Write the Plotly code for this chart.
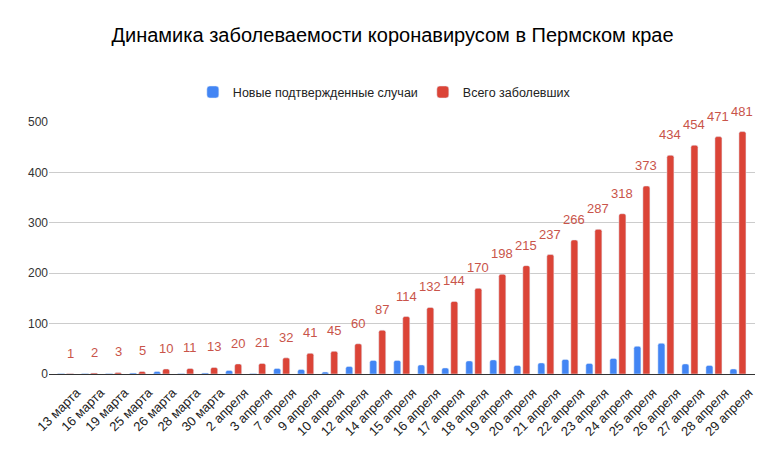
import plotly.graph_objects as go

dates = ["13 марта", "16 марта", "19 марта", "25 марта", "26 марта", "28 марта", "30 марта",
         "2 апреля", "3 апреля", "7 апреля", "9 апреля", "10 апреля", "12 апреля", "14 апреля",
         "15 апреля", "16 апреля", "17 апреля", "18 апреля", "19 апреля", "20 апреля",
         "21 апреля", "22 апреля", "23 апреля", "24 апреля", "25 апреля", "26 апреля",
         "27 апреля", "28 апреля", "29 апреля"]
total = [1, 2, 3, 5, 10, 11, 13, 20, 21, 32, 41, 45, 60, 87, 114, 132, 144, 170, 198, 215,
         237, 266, 287, 318, 373, 434, 454, 471, 481]
new_cases = [1, 1, 1, 2, 5, 1, 2, 7, 1, 11, 9, 4, 15, 27, 27, 18, 12, 26, 28, 17,
             22, 29, 21, 31, 55, 61, 20, 17, 10]

FONT = "Arial, Liberation Sans, sans-serif"

fig = go.Figure()
fig.add_trace(go.Bar(
    x=dates, y=new_cases, name="Новые подтвержденные случаи",
    marker=dict(color="#4285f4", cornerradius=2),
))
fig.add_trace(go.Bar(
    x=dates, y=total, name="Всего заболевших",
    marker=dict(color="#db4437", cornerradius=2),
))

for d, v in zip(dates, total):
    fig.add_annotation(x=d, y=v, text=str(v), showarrow=False, xref="x", yref="y",
                       xanchor="center", yanchor="bottom", xshift=4.5, yshift=11,
                       font=dict(color="#c9544a", size=13, family=FONT))

W, H = 769, 443
fig.update_layout(
    width=W, height=H,
    margin=dict(l=41, r=22, t=113.7, b=76.5, autoexpand=False),
    paper_bgcolor="white", plot_bgcolor="white",
    font=dict(family=FONT, color="#222"),
    title=dict(text="Динамика заболеваемости коронавирусом в Пермском крае",
               x=0.5, xanchor="center", y=1 - 27 / H, yanchor="middle",
               font=dict(size=20, color="#000", family=FONT)),
    barmode="group", bargap=0.25, bargroupgap=0.22,
    showlegend=True,
    legend=dict(orientation="h", x=0.475, xanchor="center", y=1.1175, yanchor="middle",
                font=dict(size=12.5, color="#222"), itemwidth=30, traceorder="normal"),
    xaxis=dict(type="category", range=[-0.69, 28.71], tickangle=-45,
               tickfont=dict(size=13, color="#222"), showgrid=False,
               ticklabelshift=11, ticklabelstandoff=5,
               showline=True, linecolor="#333", linewidth=1, ticks="", automargin=False),
    yaxis=dict(range=[0, 500], dtick=100, showgrid=True, gridcolor="#cccccc",
               tickfont=dict(size=12, color="#333"), zeroline=True, zerolinecolor="#333",
               zerolinewidth=1, ticks="", automargin=False),
)

fig.write_html("out.html")
